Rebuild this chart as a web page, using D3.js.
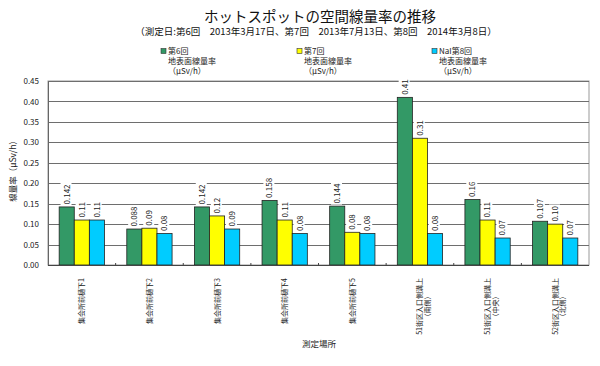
<!DOCTYPE html>
<html><head><meta charset="utf-8">
<script src="https://cdn.jsdelivr.net/npm/d3@7"></script>
<style>
html,body{margin:0;padding:0;background:#fff;}
svg{display:block;font-family:"Noto Sans CJK JP","Noto Sans",sans-serif;}
</style></head>
<body>
<svg id="chart" width="600" height="366"></svg>
<script>
const categories = ["集会所前樋下1","集会所前樋下2","集会所前樋下3","集会所前樋下4","集会所前樋下5","51街区入口側溝上","51街区入口側溝上","52街区入口側溝上"];
const categorySub = ["","","","","","（南側）","（中央）","（北側）"];
const seriesNames = ["第6回","第7回","NaI第8回"];
const round6 = [0.142,0.088,0.142,0.158,0.144,0.41,0.16,0.107];
const round7 = [0.11,0.09,0.12,0.11,0.08,0.31,0.11,0.10];
const round8 = [0.11,0.077,0.088,0.077,0.077,0.077,0.066,0.066];
const labels6 = ["0.142","0.088","0.142","0.158","0.144","0.41","0.16","0.107"];
const labels7 = ["0.11","0.09","0.12","0.11","0.08","0.31","0.11","0.10"];
const labels8 = ["0.11","0.08","0.09","0.08","0.08","0.08","0.07","0.07"];
const yTicks = [0,0.05,0.10,0.15,0.20,0.25,0.30,0.35,0.40,0.45];
const colors = ["#339966","#ffff00","#00ccff"];

const svg = d3.select("#chart");
const L=48, R=589, T=81, B=265;
const x = d3.scaleBand().domain(d3.range(categories.length)).range([L,R]).padding(0);
const x1 = d3.scaleBand().domain([0,1,2]).range([0,x.bandwidth()]).paddingInner(0).paddingOuter(0.74);
const y = d3.scaleLinear().domain([0,0.45]).range([B,T]);

// title
svg.append("text").attr("x",320).attr("y",22).attr("text-anchor","middle")
  .attr("font-size",14.5).attr("fill","#111").text("ホットスポットの空間線量率の推移");
svg.append("text").attr("x",316).attr("y",35).attr("text-anchor","middle")
  .attr("font-size",9.5).attr("fill","#111")
  .text("（測定日:第6回\u30002013年3月17日、第7回\u30002013年7月13日、第8回\u30002014年3月8日）");

// legend
const legX = [161,297,432];
seriesNames.forEach((s,i)=>{
  const g = svg.append("g");
  g.append("rect").attr("x",legX[i]).attr("y",48.5).attr("width",5).attr("height",5)
    .attr("fill",colors[i]).attr("stroke","#333").attr("stroke-width",0.6);
  g.append("text").attr("x",legX[i]+7).attr("y",54).attr("font-size",8).attr("fill","#222").text(s);
  g.append("text").attr("x",legX[i]+7).attr("y",64).attr("font-size",8).attr("fill","#222").text("地表面線量率");
  g.append("text").attr("x",legX[i]+7).attr("y",74).attr("font-size",8).attr("fill","#222").text("（μSv/h）");
});

// plot area
svg.append("rect").attr("x",L).attr("y",T).attr("width",R-L).attr("height",B-T)
  .attr("fill","#fff").attr("stroke","#999").attr("stroke-width",1);
// gridlines
svg.append("g").selectAll("line").data(yTicks.filter(d=>d>0)).join("line")
  .attr("x1",L).attr("x2",R).attr("y1",d=>Math.round(y(d))+0.5).attr("y2",d=>Math.round(y(d))+0.5)
  .attr("stroke","#6e6e6e").attr("stroke-width",1);

// y axis labels
const yAxis = d3.axisLeft(y).tickValues(yTicks).tickFormat(d3.format(".2f")).tickSize(0).tickPadding(9);
const ya = svg.append("g").attr("transform",`translate(${L},0)`).call(yAxis);
ya.select(".domain").attr("stroke","#666");
ya.selectAll("text").attr("font-size",8).attr("fill","#222").attr("font-family","'Noto Sans CJK JP',sans-serif");

// bars
const series = [round6,round7,round8];
const labelSets = [labels6,labels7,labels8];
series.forEach((vals,si)=>{
  svg.append("g").selectAll("rect").data(vals).join("rect")
    .attr("x",(d,i)=>x(i)+x1(si)).attr("width",x1.bandwidth())
    .attr("y",d=>y(d)).attr("height",d=>B-y(d))
    .attr("fill",colors[si]).attr("stroke","#222").attr("stroke-width",0.8);
});

// data labels
series.forEach((vals,si)=>{
  vals.forEach((v,i)=>{
    const cx = x(i)+x1(si)+x1.bandwidth()/2;
    const g = svg.append("g").attr("transform",`translate(${cx},${y(v)-2.5}) rotate(-90)`);
    const bg = g.append("rect").attr("fill","#fff");
    const t = g.append("text").attr("x",0).attr("y",0).attr("dy","0.35em")
      .attr("font-size",8).attr("fill","#222").text(labelSets[si][i]);
    const bb = t.node().getBBox();
    bg.attr("x",bb.x-1).attr("y",bb.y).attr("width",bb.width+2).attr("height",bb.height);
  });
});

// x axis line and ticks
const xa = svg.append("g").attr("transform",`translate(0,${B})`);
xa.append("line").attr("x1",L).attr("x2",R).attr("y1",0.5).attr("y2",0.5).attr("stroke","#444");
xa.selectAll("line.tk").data(d3.range(1,categories.length)).join("line").attr("class","tk")
  .attr("x1",d=>L+d*x.step()).attr("x2",d=>L+d*x.step()).attr("y1",-2).attr("y2",0.5).attr("stroke","#444");

// category labels
categories.forEach((c,i)=>{
  const cx = x(i)+x.bandwidth()/2;
  const g = svg.append("g").attr("transform",`translate(${cx},278) rotate(-90)`);
  const t = g.append("text").attr("x",0).attr("y",0).attr("dy","0.35em").attr("text-anchor","end")
    .attr("font-size",7).attr("fill","#222").text(c);
  if (categorySub[i]) {
    const len = t.node().getComputedTextLength();
    g.append("text").attr("x",-len/2).attr("y",7.5).attr("dy","0.35em").attr("text-anchor","middle")
      .attr("font-size",7).attr("fill","#222").text(categorySub[i]);
  }
});

// axis titles
svg.append("text").attr("transform","translate(13,169) rotate(-90)").attr("text-anchor","middle")
  .attr("dy","0.35em").attr("font-size",8.5).attr("fill","#222").text("線量率（μSv/h）");
svg.append("text").attr("x",319).attr("y",347).attr("text-anchor","middle")
  .attr("font-size",8.5).attr("fill","#222").text("測定場所");
</script>
</body></html>
